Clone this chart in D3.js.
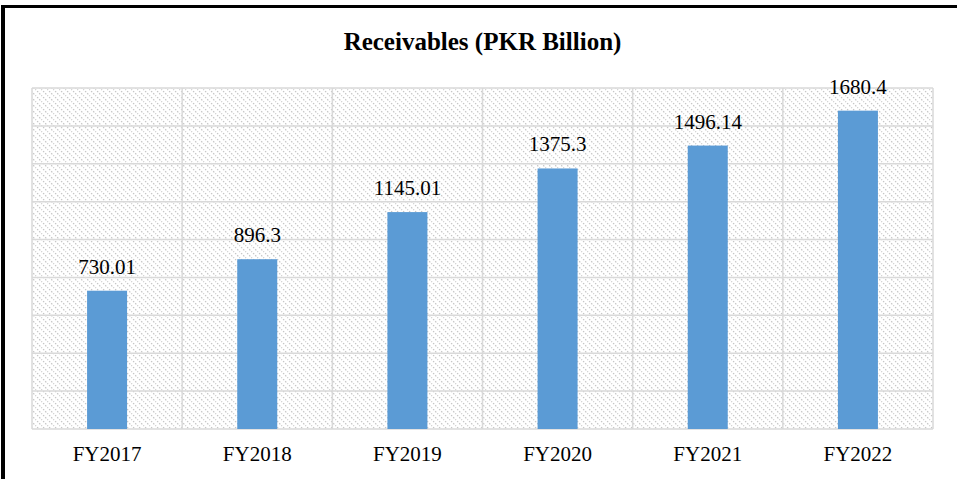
<!DOCTYPE html>
<html>
<head>
<meta charset="utf-8">
<script src="https://cdn.jsdelivr.net/npm/d3@7"></script>
<style>
  body { margin: 0; background: #fff; }
  svg { display: block; font-family: "Liberation Serif", "Times New Roman", serif; }
</style>
</head>
<body>
<svg id="chart" width="957" height="479"></svg>
<script>
(function() {
  'use strict';

  //---DATA
  var categories = ['FY2017', 'FY2018', 'FY2019', 'FY2020', 'FY2021', 'FY2022'];
  var values = [730.01, 896.3, 1145.01, 1375.3, 1496.14, 1680.4];
  var labels = ['730.01', '896.3', '1145.01', '1375.3', '1496.14', '1680.4'];
  var y_ticks = [0, 200, 400, 600, 800, 1000, 1200, 1400, 1600, 1800];

  //---SIZES
  var w = 957, h = 479;
  var left = 32, right = 933, top = 88, bottom = 429;
  var bar_w = 40;

  var svg = d3.select('#chart');

  //---HATCH PATTERN
  var defs = svg.append('defs');
  var pat = defs.append('pattern')
    .attr('id', 'hatch')
    .attr('patternUnits', 'userSpaceOnUse')
    .attr('width', 6)
    .attr('height', 6);
  pat.append('rect').attr('width', 6).attr('height', 6).attr('fill', '#fff');
  pat.append('path')
    .attr('d', 'M-1,-1 L7,7 M-1,5 L1,7 M5,-1 L7,1')
    .attr('stroke', '#c4c4c4')
    .attr('stroke-width', 1.2)
    .attr('stroke-dasharray', '1.5,1.5');

  //---SCALES
  var x = d3.scaleBand()
    .domain(categories)
    .range([left, right]);

  var y = d3.scaleLinear()
    .domain([0, 1800])
    .range([bottom, top]);

  //---PLOT BACKGROUND
  svg.append('rect')
    .attr('x', left)
    .attr('y', top)
    .attr('width', right - left)
    .attr('height', bottom - top)
    .attr('fill', 'url(#hatch)');

  //---GRID
  svg.append('g')
    .selectAll('line')
    .data(y_ticks)
    .enter()
    .append('line')
    .attr('x1', left)
    .attr('x2', right)
    .attr('y1', function(d) { return y(d); })
    .attr('y2', function(d) { return y(d); })
    .attr('stroke', '#d9d9d9')
    .attr('stroke-width', 1.5);

  var bounds = categories.map(function(c) { return x(c); }).concat([right]);
  svg.append('g')
    .selectAll('line')
    .data(bounds)
    .enter()
    .append('line')
    .attr('x1', function(d) { return d; })
    .attr('x2', function(d) { return d; })
    .attr('y1', top)
    .attr('y2', bottom)
    .attr('stroke', '#d9d9d9')
    .attr('stroke-width', 1.5);

  //---BARS
  svg.append('g')
    .selectAll('rect')
    .data(values)
    .enter()
    .append('rect')
    .attr('x', function(d, i) { return x(categories[i]) + x.bandwidth() / 2 - bar_w / 2; })
    .attr('y', function(d) { return y(d); })
    .attr('width', bar_w)
    .attr('height', function(d) { return bottom - y(d); })
    .attr('fill', '#5b9bd5');

  //---VALUE LABELS
  svg.append('g')
    .selectAll('text')
    .data(values)
    .enter()
    .append('text')
    .attr('x', function(d, i) { return x(categories[i]) + x.bandwidth() / 2; })
    .attr('y', function(d) { return y(d) - 17; })
    .attr('text-anchor', 'middle')
    .attr('font-size', 21)
    .attr('fill', '#000')
    .text(function(d, i) { return labels[i]; });

  //---X AXIS LABELS
  svg.append('g')
    .selectAll('text')
    .data(categories)
    .enter()
    .append('text')
    .attr('x', function(d) { return x(d) + x.bandwidth() / 2; })
    .attr('y', 461)
    .attr('text-anchor', 'middle')
    .attr('font-size', 21)
    .attr('fill', '#000')
    .text(function(d) { return d; });

  //---TITLE
  svg.append('text')
    .attr('x', (left + right) / 2)
    .attr('y', 50)
    .attr('text-anchor', 'middle')
    .attr('font-size', 25)
    .attr('font-weight', 'bold')
    .text('Receivables (PKR Billion)');

  //---FRAME (left and top edges only are visible)
  svg.append('rect').attr('x', 1).attr('y', 5).attr('width', 4).attr('height', h - 5).attr('fill', '#000');
  svg.append('rect').attr('x', 1).attr('y', 5).attr('width', w - 1).attr('height', 3).attr('fill', '#000');

})();
</script>
</body>
</html>
